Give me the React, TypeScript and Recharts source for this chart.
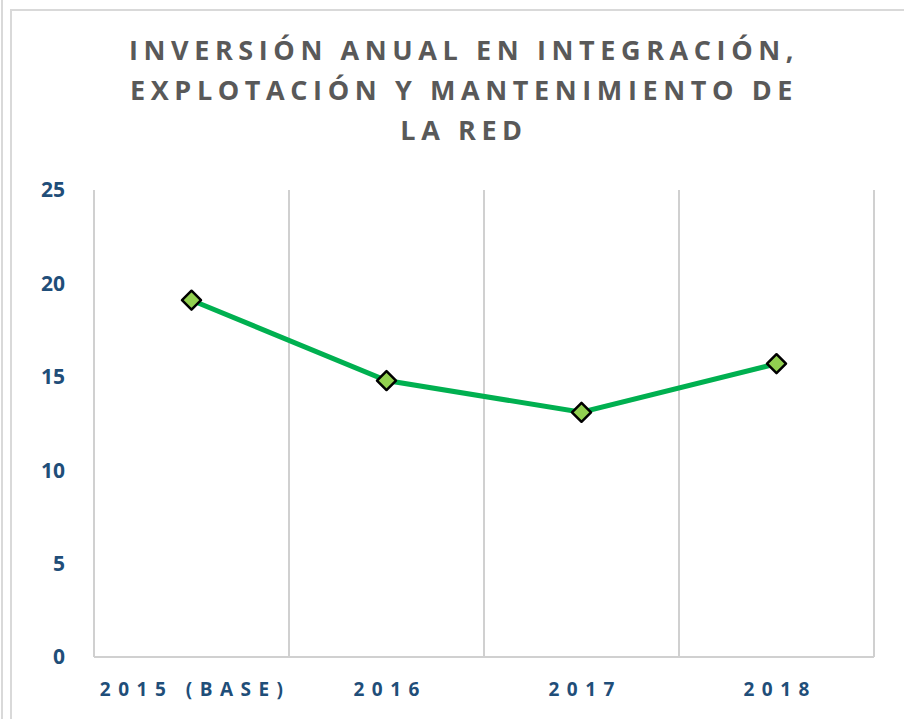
import React from "react";
import { LineChart, Line, XAxis, YAxis, CartesianGrid } from "recharts";

const categories = ["2015 (BASE)", "2016", "2017", "2018"];
const inversion = [19.1, 14.8, 13.1, 15.7];
const yTicks = [0, 5, 10, 15, 20, 25];
const titleLines = [
  "INVERSIÓN ANUAL EN INTEGRACIÓN,",
  "EXPLOTACIÓN Y MANTENIMIENTO DE",
  "LA RED",
];

const data = categories.map((c, i) => ({ name: c, value: inversion[i] }));

const Diamond = (props: any) => {
  const { cx, cy } = props;
  if (cx == null || cy == null) return null;
  const r = 9.5;
  return (
    <path
      d={`M${cx},${cy - r} L${cx + r},${cy} L${cx},${cy + r} L${cx - r},${cy} Z`}
      fill="#92D050"
      stroke="#000"
      strokeWidth={2.5}
      strokeLinejoin="round"
    />
  );
};

export default function App() {
  return (
    <div
      style={{
        position: "absolute",
        left: 0,
        top: 0,
        width: 904,
        height: 719,
        background: "#fff",
        overflow: "hidden",
      }}
    >
      <div style={{ position: "absolute", left: 1, top: 0, width: 2, height: 719, background: "#d9d9d9" }} />
      <div style={{ position: "absolute", left: 10, top: 9, width: 2, height: 710, background: "#d9d9d9" }} />
      <div style={{ position: "absolute", left: 10, top: 9, width: 894, height: 2, background: "#d9d9d9" }} />
      <div
        style={{
          position: "absolute",
          left: 0,
          top: 30,
          width: 928,
          textAlign: "center",
          fontFamily: "'Open Sans', sans-serif",
          fontWeight: 700,
          fontSize: 27,
          letterSpacing: 5.6,
          lineHeight: "40px",
          color: "#595959",
        }}
      >
        {titleLines.map((t, i) => (
          <div key={i}>{t}</div>
        ))}
      </div>
      <div style={{ position: "absolute", left: 0, top: 0 }}>
        <LineChart
          width={904}
          height={719}
          data={data}
          margin={{ top: 190, right: 30, bottom: 22, left: 34 }}
        >
          <CartesianGrid
            horizontal={false}
            stroke="#d0d0d0"
            strokeWidth={2}
            verticalCoordinatesGenerator={({ offset }: any) =>
              categories
                .map((_, i) => offset.left + (offset.width * i) / categories.length)
                .concat([offset.left + offset.width])
            }
          />
          <XAxis
            dataKey="name"
            scale="band"
            axisLine={{ stroke: "#d0d0d0", strokeWidth: 2 }}
            tickLine={false}
            tickSize={0}
            tickMargin={26}
            height={40}
            interval={0}
            tick={{
              fill: "#1F4E79",
              fontFamily: "'Open Sans', sans-serif",
              fontWeight: 700,
              fontSize: 19,
              letterSpacing: 7.5,
              dx: 3.7,
            }}
          />
          <YAxis
            domain={[0, 25]}
            ticks={yTicks}
            axisLine={false}
            tickLine={false}
            tickSize={0}
            tickMargin={29}
            width={60}
            tick={{
              fill: "#1F4E79",
              fontFamily: "'Open Sans', sans-serif",
              fontWeight: 700,
              fontSize: 21,
            }}
          />
          <Line
            type="linear"
            dataKey="value"
            stroke="#00B050"
            strokeWidth={5}
            dot={<Diamond />}
            activeDot={false}
            isAnimationActive={false}
          />
        </LineChart>
      </div>
    </div>
  );
}
